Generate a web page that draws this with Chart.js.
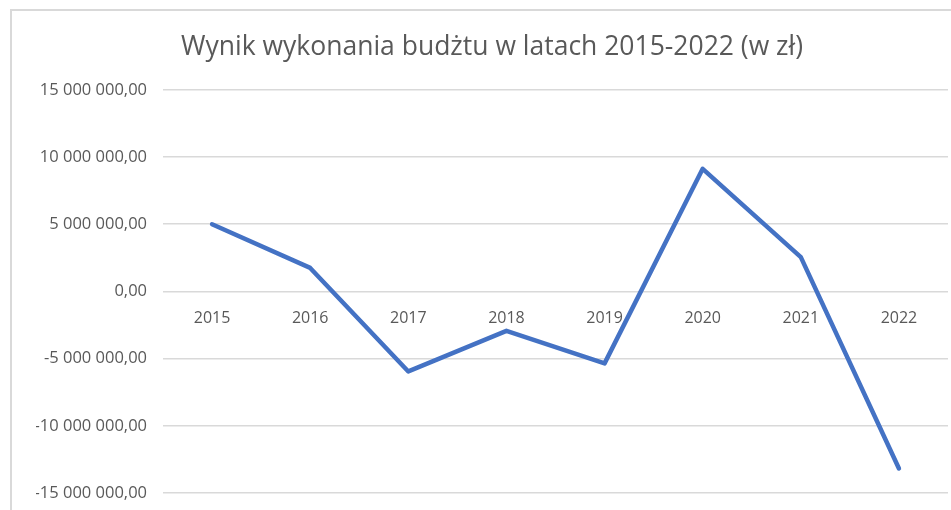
<!DOCTYPE html>
<html>
<head>
<meta charset="utf-8">
<script src="https://cdn.jsdelivr.net/npm/chart.js@4"></script>
<style>
  html, body { margin: 0; padding: 0; background: #fff; overflow: hidden; }
  body { width: 951px; height: 510px; position: relative; }
  .frame {
    position: absolute; left: 10px; top: 9px;
    width: 962px; height: 520px;
    border: 2px solid #d9d9d9; box-sizing: border-box;
  }
  .frame canvas { position: absolute; left: 0; top: 0; }
</style>
</head>
<body>
<div class="frame">
  <canvas id="chart" width="958" height="508"></canvas>
</div>
<script>
// data (values in zł)
const years = ["2015", "2016", "2017", "2018", "2019", "2020", "2021", "2022"];
const budgetResult = [5000000, 1750000, -5950000, -2930000, -5350000, 9120000, 2550000, -13170000];
const yTicks = [15000000, 10000000, 5000000, 0, -5000000, -10000000, -15000000];

const textColor = "#595959";
const gridColor = "#d9d9d9";
const fontFamily = "'Open Sans', 'Noto Sans', sans-serif";

// "15 000 000,00" style numbers
function plNumber(v) {
  const neg = v < 0;
  const parts = Math.abs(v).toFixed(2).split(".");
  const whole = parts[0].replace(/\B(?=(\d{3})+(?!\d))/g, " ");
  return (neg ? "-" : "") + whole + "," + parts[1];
}

const ctx = document.getElementById("chart").getContext("2d");
new Chart(ctx, {
  type: "line",
  data: {
    labels: years,
    datasets: [{
      data: budgetResult,
      borderColor: "#4472c4",
      borderWidth: 4.5,
      pointRadius: 0,
      tension: 0,
      borderCapStyle: "round",
      borderJoinStyle: "round",
      fill: false
    }]
  },
  options: {
    responsive: false,
    animation: false,
    layout: { padding: { left: 24, right: 22, top: 0, bottom: 0 } },
    plugins: {
      legend: { display: false },
      tooltip: { enabled: false },
      title: {
        display: true,
        text: "Wynik wykonania budżtu w latach 2015-2022 (w zł)",
        color: textColor,
        font: { family: fontFamily, size: 26.5, weight: "normal" },
        padding: { top: 21, bottom: 26 }
      }
    },
    scales: {
      x: {
        type: "category",
        offset: true,
        position: { y: 0 },
        grid: { display: false, drawTicks: false },
        border: { display: false },
        ticks: {
          color: textColor,
          font: { family: fontFamily, size: 16 },
          padding: 17,
          maxRotation: 0
        }
      },
      y: {
        min: -15000000,
        max: 15000000,
        afterFit: scale => { scale.width = 127; },
        afterBuildTicks: scale => { scale.ticks = yTicks.map(v => ({ value: v })); },
        grid: { color: gridColor, lineWidth: 1.5, drawTicks: false },
        border: { display: false },
        ticks: {
          color: textColor,
          font: { family: fontFamily, size: 16.5 },
          padding: 16,
          callback: v => plNumber(v)
        }
      }
    }
  }
});
</script>
</body>
</html>
